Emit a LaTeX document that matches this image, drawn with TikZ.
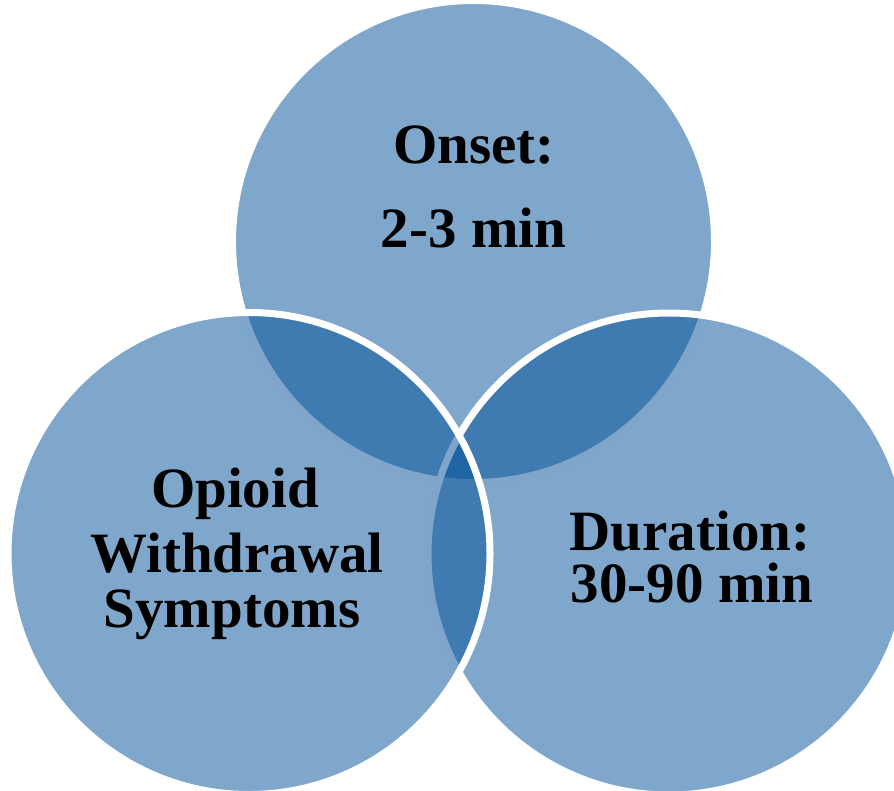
\documentclass[tikz,border=0pt]{standalone}
\usepackage{fontspec}
\setmainfont{Liberation Serif}
\definecolor{vennblue}{RGB}{0,79,151}
\begin{document}
\begin{tikzpicture}[x=1pt,y=-1pt,
  venn/.style={circle, minimum size=482pt, inner sep=0pt, outer sep=0pt,
    fill=vennblue, fill opacity=0.5, draw=white, draw opacity=1, line width=7pt},
  lbl/.style={anchor=base, inner sep=0pt, text=black,
    font=\fontsize{57}{68}\selectfont\bfseries}]
\useasboundingbox (0,0) rectangle (894,790);
\clip (0,0) rectangle (894,790);
\node[venn] (ctop) at (473.5,241.5) {};
\node[venn] (cright) at (669,554) {};
\node[venn] (cleft) at (249,553.5) {};
\node[lbl] (onset) at (474,163) {Onset:};
\node[lbl] (onsetv) at (473.5,247) {2-3 min};
\node[lbl] (op1) at (235,507) {Opioid};
\node[lbl] (op2) at (237,572) {Withdrawal};
\node[lbl] (op3) at (232,627) {Symptoms};
\node[lbl] (dur) at (690,550) {Duration:};
\node[lbl] (durv) at (692,602) {30-90 min};
\end{tikzpicture}
\end{document}
